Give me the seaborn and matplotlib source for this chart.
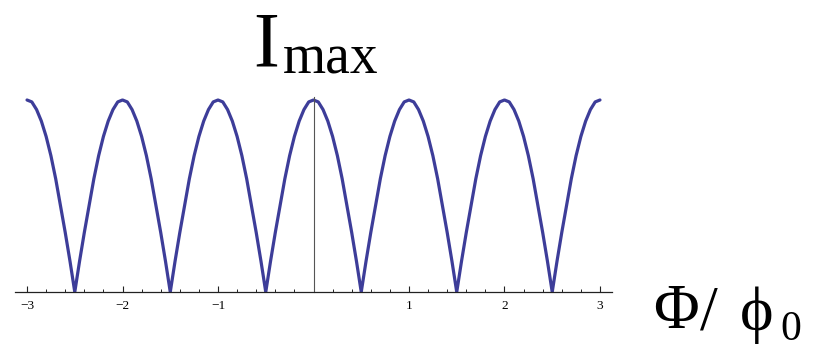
import numpy as np
import pandas as pd
import seaborn as sns
import matplotlib.pyplot as plt
from matplotlib.ticker import MultipleLocator

# Flux ratio Phi/phi0, sampled every 0.05
flux = [round(-3 + 0.05 * i, 2) for i in range(121)]

# Normalised maximum current at each flux sample
imax = [
    1.00, 0.99, 0.95, 0.89, 0.81, 0.71, 0.59, 0.45, 0.31, 0.16,
    0.00, 0.16, 0.31, 0.45, 0.59, 0.71, 0.81, 0.89, 0.95, 0.99,
    1.00, 0.99, 0.95, 0.89, 0.81, 0.71, 0.59, 0.45, 0.31, 0.16,
    0.00, 0.16, 0.31, 0.45, 0.59, 0.71, 0.81, 0.89, 0.95, 0.99,
    1.00, 0.99, 0.95, 0.89, 0.81, 0.71, 0.59, 0.45, 0.31, 0.16,
    0.00, 0.16, 0.31, 0.45, 0.59, 0.71, 0.81, 0.89, 0.95, 0.99,
    1.00, 0.99, 0.95, 0.89, 0.81, 0.71, 0.59, 0.45, 0.31, 0.16,
    0.00, 0.16, 0.31, 0.45, 0.59, 0.71, 0.81, 0.89, 0.95, 0.99,
    1.00, 0.99, 0.95, 0.89, 0.81, 0.71, 0.59, 0.45, 0.31, 0.16,
    0.00, 0.16, 0.31, 0.45, 0.59, 0.71, 0.81, 0.89, 0.95, 0.99,
    1.00, 0.99, 0.95, 0.89, 0.81, 0.71, 0.59, 0.45, 0.31, 0.16,
    0.00, 0.16, 0.31, 0.45, 0.59, 0.71, 0.81, 0.89, 0.95, 0.99,
    1.00,
]

x_ticks = [-3, -2, -1, 1, 2, 3]
x_tick_labels = ["\u22123", "\u22122", "\u22121", "1", "2", "3"]

sns.set_style("white")
plt.rcParams["font.family"] = ["Liberation Serif", "DejaVu Serif"]
plt.rcParams["text.color"] = "black"
plt.rcParams["xtick.color"] = "black"

df = pd.DataFrame({"flux": flux, "imax": imax})

fig = plt.figure(figsize=(8.15, 3.48), dpi=100)
ax = fig.add_axes([15 / 815, 56 / 348, 597 / 815, 195 / 348])

sns.lineplot(data=df, x="flux", y="imax", ax=ax, color="#3d3d99",
             linewidth=2.3, solid_joinstyle="round", solid_capstyle="round")

ax.set_xlim(-3.126, 3.126)
ax.set_ylim(0, 1.0156)

for side in ("top", "right"):
    ax.spines[side].set_visible(False)
ax.spines["left"].set_position(("data", 0))
ax.spines["bottom"].set_position(("data", 0))
ax.spines["left"].set_color("#555555")
ax.spines["left"].set_linewidth(0.8)
ax.spines["bottom"].set_color("#222222")
ax.spines["bottom"].set_linewidth(0.9)

ax.set_yticks([])
ax.set_xticks(x_ticks)
ax.set_xticklabels(x_tick_labels, fontsize=9.6, color="black")
ax.xaxis.set_minor_locator(MultipleLocator(0.2))
ax.tick_params(axis="x", which="major", direction="in", length=4.5,
               width=0.8, color="#222222", pad=6, bottom=True)
ax.tick_params(axis="x", which="minor", direction="in", length=2.5,
               width=0.7, color="#222222", bottom=True)
ax.set_xlabel("")
ax.set_ylabel("")


def place(text, x_px, base_px, size, ha="left"):
    fig.text(x_px / 815, 1 - base_px / 348, text, fontsize=size,
             ha=ha, va="baseline", color="black")


# Vertical-axis label: I with "max" subscript
place("I", 253, 65, 56)
place("max", 283, 73, 40)

# Horizontal-axis label: Phi / phi0
place("\u03a6", 676, 328, 45, ha="center")
place("/", 709, 330, 46, ha="center")
place("\u03d5", 757, 330, 46, ha="center")
place("0", 780, 340, 30)

fig.savefig("out.png", dpi=100)
